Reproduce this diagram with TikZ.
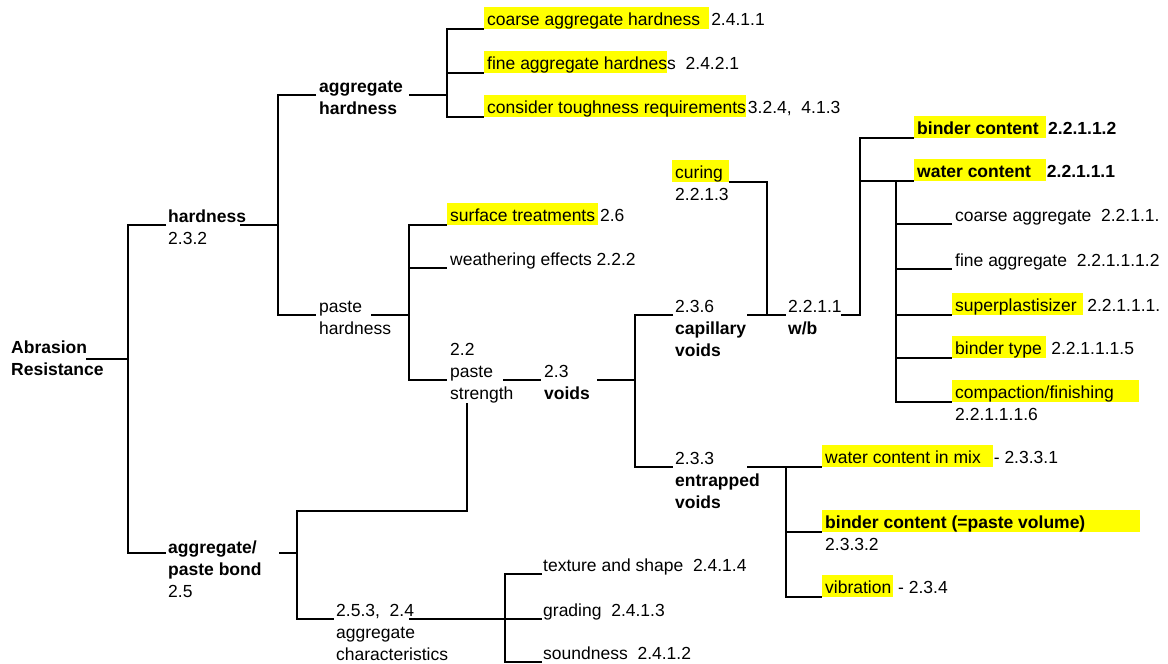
\documentclass[tikz,border=0pt]{standalone}
\usepackage{fontspec}
\setmainfont{Liberation Sans}
\usepackage{xcolor}
\definecolor{hly}{HTML}{FFFF00}
\setlength{\fboxsep}{0pt}
\setlength{\lineskiplimit}{-100pt}
\newcommand\ls{\rule[-4pt]{0pt}{22pt}}
\newcommand\hl[1]{\colorbox{hly}{\ls\kern3pt #1}}
\begin{document}
\begin{tikzpicture}[x=1pt,y=-1pt,
  lbl/.style={inner sep=0pt, anchor=north west, align=left, font=\fontsize{17.5}{22}\selectfont},
  conn/.style={line width=1.9pt, line join=miter}]
\useasboundingbox (0,0) rectangle (1168,664);
% ---------- labels ----------
\node[lbl] (abr)  at (11,335)  {\ls\textbf{Abrasion}\\\ls\textbf{Resistance}};
\node[lbl] (hard) at (168,204) {\ls\textbf{hardness}\\\ls 2.3.2};
\node[lbl] (aggb) at (168,535) {\ls\textbf{aggregate/}\\\ls\textbf{paste bond}\\\ls 2.5};
\node[lbl] (agh)  at (319,74)  {\ls\textbf{aggregate}\\\ls\textbf{hardness}};
\node[lbl] (pah)  at (319,294) {\ls paste\\\ls hardness};
\node[lbl] (ca)   at (484,7)   {\hl{coarse aggregate hardness\kern9pt}\kern2pt 2.4.1.1};
\node[lbl] (fa)   at (484,51)  {\hl{fine aggregate hardnes}s\ \ 2.4.2.1};
\node[lbl] (ct)   at (484,95)  {\hl{consider toughness requirements}\kern2pt 3.2.4,\ \ 4.1.3};
\node[lbl] (st)   at (447,203) {\hl{surface treatments\kern3pt}\kern2pt 2.6};
\node[lbl] (we)   at (450,247) {\ls weathering effects 2.2.2};
\node[lbl] (ps)   at (450,337) {\ls 2.2\\\ls paste\\\ls strength};
\node[lbl] (vo)   at (544,359) {\ls 2.3\\\ls\textbf{voids}};
\node[lbl] (cap)  at (675,294) {\ls 2.3.6\\\ls\textbf{capillary}\\\ls\textbf{voids}};
\node[lbl] (ent)  at (675,446) {\ls 2.3.3\\\ls\textbf{entrapped}\\\ls\textbf{voids}};
\node[lbl] (cur)  at (672,160) {\hl{curing\kern6pt}\\\ls\kern3pt 2.2.1.3};
\node[lbl] (wb)   at (788,294) {\ls 2.2.1.1\\\ls\textbf{w/b}};
\node[lbl] (bc)   at (914,116) {\hl{\bfseries binder content\kern7.5pt}\kern2pt\textbf{2.2.1.1.2}};
\node[lbl] (wc)   at (914,159) {\hl{\bfseries water content\kern15pt}\kern1pt\textbf{2.2.1.1.1}};
\node[lbl] (ca2)  at (955,203) {\ls coarse aggregate\ \ 2.2.1.1.};
\node[lbl] (fa2)  at (955,248) {\ls fine aggregate\ \ 2.2.1.1.1.2};
\node[lbl] (sp)   at (952,293) {\hl{superplastisizer\kern6.5pt}\kern4pt 2.2.1.1.1.};
\node[lbl] (bt)   at (952,336) {\hl{binder type\kern4.5pt}\kern5pt 2.2.1.1.1.5};
\node[lbl] (cf)   at (952,380) {\hl{compaction/finishing\kern25pt}\\\ls\kern3pt 2.2.1.1.1.6};
\node[lbl] (wm)   at (822,445) {\hl{water content in mix\kern12pt}\kern1pt- 2.3.3.1};
\node[lbl] (bv)   at (822,510) {\hl{\bfseries binder content (=paste volume)\kern55pt}\\\ls\kern3pt 2.3.3.2};
\node[lbl] (vib)  at (822,575) {\hl{vibration\kern2pt}\ - 2.3.4};
\node[lbl] (ac)   at (336,598) {\ls 2.5.3,\ \ 2.4\\\ls aggregate\\\ls characteristics};
\node[lbl] (ts)   at (543,553) {\ls texture and shape\ \ 2.4.1.4};
\node[lbl] (gr)   at (543,598) {\ls grading\ \ 2.4.1.3};
\node[lbl] (sn)   at (543,641) {\ls soundness\ \ 2.4.1.2};
% ---------- attach points ----------
\coordinate (abr-r) at (86,359);
\coordinate (hard-l) at (166,225); \coordinate (hard-r) at (240,225);
\coordinate (aggb-l) at (166,553); \coordinate (aggb-r) at (279,553);
\coordinate (agh-l) at (316,95);   \coordinate (agh-r) at (409,95);
\coordinate (pah-l) at (316,315);  \coordinate (pah-r) at (371,315);
\coordinate (ca-l) at (484,29); \coordinate (fa-l) at (484,73); \coordinate (ct-l) at (484,117);
\coordinate (st-l) at (447,225); \coordinate (we-l) at (447,268);
\coordinate (ps-l) at (447,380); \coordinate (ps-r) at (503,380); \coordinate (ps-b) at (467,403);
\coordinate (vo-l) at (541,380); \coordinate (vo-r) at (597,380);
\coordinate (cap-l) at (673,315); \coordinate (cap-r) at (747,315);
\coordinate (ent-l) at (673,467); \coordinate (ent-r) at (747,467);
\coordinate (cur-r) at (729,182);
\coordinate (wb-l) at (786,315); \coordinate (wb-r) at (841,315);
\coordinate (bc-l) at (914,138); \coordinate (wc-l) at (914,181);
\coordinate (ca2-l) at (952,224); \coordinate (fa2-l) at (952,269); \coordinate (sp-l) at (952,315);
\coordinate (bt-l) at (952,358); \coordinate (cf-l) at (952,402);
\coordinate (wm-l) at (822,467); \coordinate (bv-l) at (822,532); \coordinate (vib-l) at (822,597);
\coordinate (ac-l) at (334,619); \coordinate (ac-r) at (409,619);
\coordinate (ts-l) at (542,574); \coordinate (gr-l) at (542,619); \coordinate (sn-l) at (542,662);
% bars
\coordinate (barA) at (128,0); \coordinate (barB) at (278,0); \coordinate (barC) at (447,0);
\coordinate (barD) at (409,0); \coordinate (barE) at (635,0); \coordinate (barK) at (767,0);
\coordinate (barF) at (860,0); \coordinate (barG) at (896,0); \coordinate (barH) at (786,0);
\coordinate (jI) at (297,511); \coordinate (barJ) at (505,0);
% ---------- connectors ----------
\draw[conn] (abr-r) -- (abr-r -| barA);
\draw[conn] (hard-l) -- (hard-l -| barA) -- (aggb-l -| barA) -- (aggb-l);
\draw[conn] (hard-r) -- (hard-r -| barB);
\draw[conn] (agh-l) -- (agh-l -| barB) -- (pah-l -| barB) -- (pah-l);
\draw[conn] (agh-r) -- (agh-r -| barC);
\draw[conn] (ca-l) -- (ca-l -| barC) -- (ct-l -| barC) -- (ct-l);
\draw[conn] (fa-l -| barC) -- (fa-l);
\draw[conn] (pah-r) -- (pah-r -| barD);
\draw[conn] (st-l) -- (st-l -| barD) -- (ps-l -| barD) -- (ps-l);
\draw[conn] (we-l -| barD) -- (we-l);
\draw[conn] (ps-r) -- (vo-l);
\draw[conn] (vo-r) -- (vo-r -| barE);
\draw[conn] (cap-l) -- (cap-l -| barE) -- (ent-l -| barE) -- (ent-l);
\draw[conn] (cap-r) -- (wb-l);
\draw[conn] (cur-r) -- (cur-r -| barK) -- (cap-r -| barK);
\draw[conn] (bc-l) -- (bc-l -| barF) -- (wb-r -| barF) -- (wb-r);
\draw[conn] (wc-l -| barF) -- (wc-l);
\draw[conn] (wc-l -| barG) -- (cf-l -| barG) -- (cf-l);
\draw[conn] (ca2-l -| barG) -- (ca2-l);
\draw[conn] (fa2-l -| barG) -- (fa2-l);
\draw[conn] (sp-l -| barG) -- (sp-l);
\draw[conn] (bt-l -| barG) -- (bt-l);
\draw[conn] (ent-r) -- (wm-l);
\draw[conn] (wm-l -| barH) -- (vib-l -| barH) -- (vib-l);
\draw[conn] (bv-l -| barH) -- (bv-l);
\draw[conn] (aggb-r) -- (aggb-r -| jI);
\draw[conn] (ps-b) -- (ps-b |- jI) -- (jI) -- (ac-l -| jI) -- (ac-l);
\draw[conn] (ac-r) -- (ac-r -| barJ);
\draw[conn] (ts-l) -- (ts-l -| barJ) -- (sn-l -| barJ) -- (sn-l);
\draw[conn] (gr-l -| barJ) -- (gr-l);
\end{tikzpicture}
\end{document}
